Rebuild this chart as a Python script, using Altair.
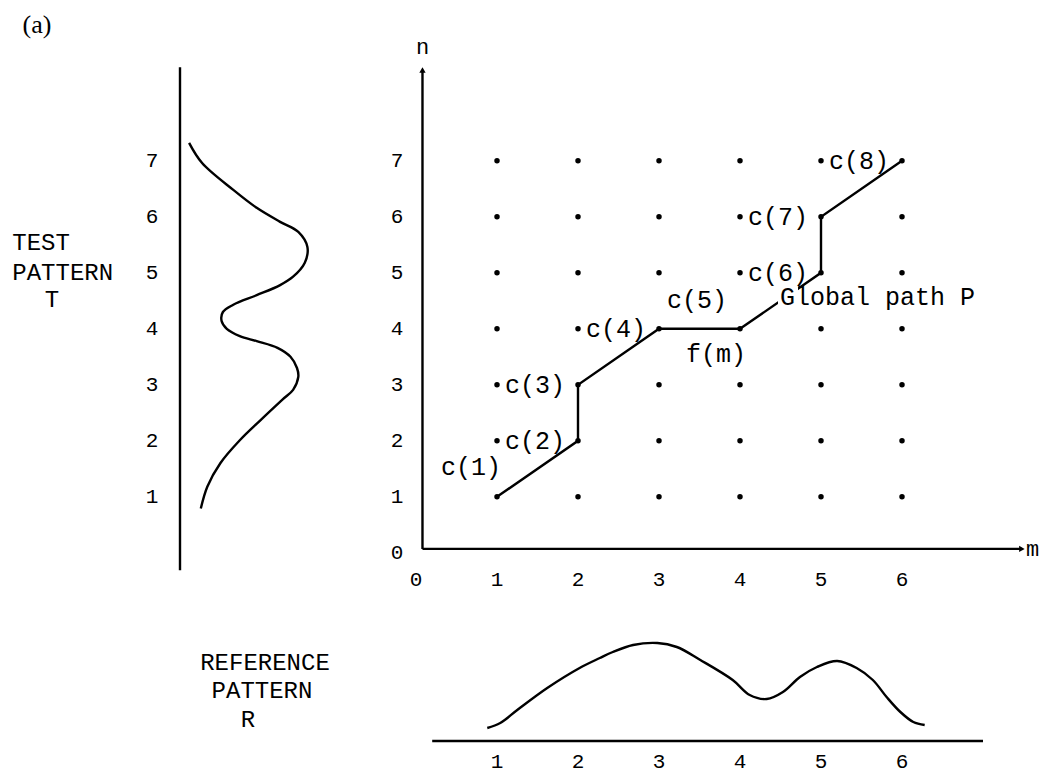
import altair as alt
import pandas as pd

# ------------------------------------------------------------------ data
grid_m = [1, 2, 3, 4, 5, 6]
grid_n = [1, 2, 3, 4, 5, 6, 7]

# global warping path c(1) ... c(8)
path_m = [1, 2, 2, 3, 4, 5, 5, 6]
path_n = [1, 2, 3, 4, 4, 5, 6, 7]

# labels written just right of a grid dot
side_labels = ["c(2)", "c(3)", "c(4)", "c(6)", "c(7)", "c(8)"]
side_label_m = [1, 1, 2, 4, 4, 5]
side_label_n = [2, 3, 4, 5, 6, 7]

# test pattern T (drawn vertically: amplitude against n)
test_n = [7.32, 6.96, 6.48, 6.16, 5.91, 5.73, 5.46, 5.18, 4.93, 4.78, 4.60, 4.43,
          4.30, 4.14, 4.00, 3.87, 3.78, 3.66, 3.50, 3.30, 3.14, 2.91, 2.74, 2.37,
          2.01, 1.60, 1.18, 0.79]
test_amp = [0.07, 0.17, 0.41, 0.59, 0.77, 0.91, 0.98, 0.96, 0.87, 0.77, 0.59, 0.41,
            0.33, 0.32, 0.36, 0.46, 0.59, 0.75, 0.85, 0.90, 0.91, 0.87, 0.79, 0.62,
            0.46, 0.31, 0.21, 0.16]

# reference pattern R (amplitude against m)
ref_m = [0.88, 1.04, 1.25, 1.62, 2.02, 2.27, 2.43, 2.68, 2.98, 3.22, 3.51, 3.91,
         4.12, 4.33, 4.53, 4.74, 4.95, 5.20, 5.44, 5.64, 5.81, 5.98, 6.14, 6.28]
ref_amp = [0.13, 0.18, 0.31, 0.53, 0.73, 0.83, 0.89, 0.96, 0.98, 0.94, 0.81, 0.61,
           0.46, 0.42, 0.49, 0.64, 0.74, 0.80, 0.73, 0.61, 0.44, 0.29, 0.19, 0.16]

m_tick_values = [0, 1, 2, 3, 4, 5, 6]
n_tick_values = [0, 1, 2, 3, 4, 5, 6, 7]
test_tick_values = [1, 2, 3, 4, 5, 6, 7]
ref_tick_values = [1, 2, 3, 4, 5, 6]

# axis extents in data units
axis_origin_m = 0.08
axis_origin_n = 0.07
axis_n_end = 8.62
axis_m_end = 7.48
test_base_n = [-0.31, 8.67]
ref_base_m = [0.20, 7.00]

# side titles (text, position in the units of their panel)
test_title = ["TEST", "PATTERN"]
test_title_a = [-1.29, -1.29]
test_title_n = [5.53, 5.00]
test_symbol = ["T"]
test_symbol_a = [-0.985]
test_symbol_n = [4.51]
ref_title = ["REFERENCE", "PATTERN", "R"]
ref_title_m = [-1.864, -1.901, -2.074]
ref_title_b = [0.78, 0.50, 0.21]

# ------------------------------------------------------------------ layout
W, H = 1033, 765
M0, MPX = 408.0, 81.0     # plot px of m = 0, px per unit m
N0, NPX = 544.8, 56.0     # plot px of n = 0, px per unit n
A0, APX = 172.0, 130.0    # test-pattern amplitude axis
B0, BPX = 733.0, 100.0    # reference-pattern amplitude axis

FONT = "Liberation Mono"
FS_LABEL = 25
FS_TICK = 21
FS_TITLE = 24

sm = alt.Scale(domain=[-M0 / MPX, (W - M0) / MPX], nice=False, zero=False)
sn = alt.Scale(domain=[(N0 - H) / NPX, N0 / NPX], nice=False, zero=False)
sa = alt.Scale(domain=[-A0 / APX, (W - A0) / APX], nice=False, zero=False)
sb = alt.Scale(domain=[(B0 - H) / BPX, B0 / BPX], nice=False, zero=False)


def X(field, scale):
    return alt.X(f"{field}:Q", scale=scale, axis=None)


def Y(field, scale):
    return alt.Y(f"{field}:Q", scale=scale, axis=None)


# ------------------------------------------------------------------ frames
grid_df = pd.DataFrame([{"m": m, "n": n} for n in grid_n for m in grid_m])
path_df = pd.DataFrame({"m": path_m, "n": path_n, "k": list(range(1, len(path_m) + 1))})
side_df = pd.DataFrame({"m": side_label_m, "n": side_label_n, "t": side_labels})
c1_df = pd.DataFrame({"m": [path_m[0]], "n": [path_n[0]], "t": ["c(1)"]})
c5_df = pd.DataFrame({"m": [path_m[3]], "n": [path_n[3]], "t": ["c(5)"]})
fm_df = pd.DataFrame({"m": [path_m[4]], "n": [path_n[4]], "t": ["f(m)"]})
gp_df = pd.DataFrame({"m": [path_m[4]], "n": [path_n[4]], "t": ["Global path P"]})

test_df = pd.DataFrame({"a": test_amp, "n": test_n, "i": list(range(len(test_n)))})
ref_df = pd.DataFrame({"m": ref_m, "b": ref_amp, "i": list(range(len(ref_m)))})

n_axis_df = pd.DataFrame({"m": [axis_origin_m], "n": [axis_origin_n], "n2": [axis_n_end]})
m_axis_df = pd.DataFrame({"m": [axis_origin_m], "m2": [axis_m_end], "n": [axis_origin_n]})
up_df = pd.DataFrame({"m": [axis_origin_m], "n": [axis_n_end], "t": ["n"]})
right_df = pd.DataFrame({"m": [axis_m_end], "n": [axis_origin_n], "t": ["m"]})

test_base_df = pd.DataFrame({"a": [0.0], "n": [test_base_n[0]], "n2": [test_base_n[1]]})
ref_base_df = pd.DataFrame({"m": [ref_base_m[0]], "m2": [ref_base_m[1]], "b": [0.0]})

n_tick_df = pd.DataFrame({"m": [0.0] * len(n_tick_values), "n": n_tick_values,
                          "t": [str(v) for v in n_tick_values]})
m_tick_df = pd.DataFrame({"m": m_tick_values, "n": [0.0] * len(m_tick_values),
                          "t": [str(v) for v in m_tick_values]})
test_tick_df = pd.DataFrame({"a": [0.0] * len(test_tick_values), "n": test_tick_values,
                             "t": [str(v) for v in test_tick_values]})
ref_tick_df = pd.DataFrame({"m": ref_tick_values, "b": [0.0] * len(ref_tick_values),
                            "t": [str(v) for v in ref_tick_values]})

test_title_df = pd.DataFrame({"a": test_title_a, "n": test_title_n, "t": test_title})
test_symbol_df = pd.DataFrame({"a": test_symbol_a, "n": test_symbol_n, "t": test_symbol})
ref_title_df = pd.DataFrame({"m": ref_title_m, "b": ref_title_b, "t": ref_title})
panel_df = pd.DataFrame({"m": [-4.679], "n": [9.425], "t": ["(a)"]})

LW = 2.4
layers = []

# main axes
layers.append(alt.Chart(n_axis_df).mark_rule(color="black", strokeWidth=LW).encode(
    x=X("m", sm), y=Y("n", sn), y2="n2:Q"))
layers.append(alt.Chart(m_axis_df).mark_rule(color="black", strokeWidth=LW).encode(
    x=X("m", sm), x2="m2:Q", y=Y("n", sn)))
layers.append(alt.Chart(up_df).mark_point(shape="triangle-up", filled=True, size=40,
                                          color="black", opacity=1).encode(
    x=X("m", sm), y=Y("n", sn)))
layers.append(alt.Chart(right_df).mark_point(shape="triangle-right", filled=True, size=40,
                                             color="black", opacity=1).encode(
    x=X("m", sm), y=Y("n", sn)))
layers.append(alt.Chart(up_df).mark_text(font=FONT, fontSize=22, dy=-23, color="black").encode(
    x=X("m", sm), y=Y("n", sn), text="t:N"))
layers.append(alt.Chart(right_df).mark_text(font=FONT, fontSize=22, dx=4, align="left",
                                            color="black").encode(
    x=X("m", sm), y=Y("n", sn), text="t:N"))

# tick labels of main plot
layers.append(alt.Chart(n_tick_df).mark_text(font=FONT, fontSize=FS_TICK, dx=-19,
                                             color="black").encode(
    x=X("m", sm), y=Y("n", sn), text="t:N"))
layers.append(alt.Chart(m_tick_df).mark_text(font=FONT, fontSize=FS_TICK, dy=27,
                                             color="black").encode(
    x=X("m", sm), y=Y("n", sn), text="t:N"))

# grid dots and path
layers.append(alt.Chart(grid_df).mark_circle(size=30, color="black", opacity=1).encode(
    x=X("m", sm), y=Y("n", sn)))
layers.append(alt.Chart(path_df).mark_line(color="black", strokeWidth=LW).encode(
    x=X("m", sm), y=Y("n", sn), order="k:Q"))
# small white gap where the "Global path P" label interrupts the path
layers.append(alt.Chart(gp_df).mark_point(shape="square", filled=True, size=400,
                                          color="white", opacity=1,
                                          xOffset=48, yOffset=-33).encode(
    x=X("m", sm), y=Y("n", sn)))

# path labels
layers.append(alt.Chart(side_df).mark_text(font=FONT, fontSize=FS_LABEL, dx=8, align="left",
                                           color="black").encode(
    x=X("m", sm), y=Y("n", sn), text="t:N"))
layers.append(alt.Chart(c1_df).mark_text(font=FONT, fontSize=FS_LABEL, dx=-26, dy=-30,
                                         color="black").encode(
    x=X("m", sm), y=Y("n", sn), text="t:N"))
layers.append(alt.Chart(c5_df).mark_text(font=FONT, fontSize=FS_LABEL, dx=8, dy=-29,
                                         align="left", color="black").encode(
    x=X("m", sm), y=Y("n", sn), text="t:N"))
layers.append(alt.Chart(fm_df).mark_text(font=FONT, fontSize=FS_LABEL, dx=-54, dy=25,
                                         align="left", color="black").encode(
    x=X("m", sm), y=Y("n", sn), text="t:N"))
layers.append(alt.Chart(gp_df).mark_text(font=FONT, fontSize=FS_LABEL, dx=40, dy=-32,
                                         align="left", color="black").encode(
    x=X("m", sm), y=Y("n", sn), text="t:N"))

# test pattern panel (left)
layers.append(alt.Chart(test_base_df).mark_rule(color="black", strokeWidth=LW).encode(
    x=X("a", sa), y=Y("n", sn), y2="n2:Q"))
layers.append(alt.Chart(test_df).mark_line(color="black", strokeWidth=LW,
                                           interpolate="catmull-rom").encode(
    x=X("a", sa), y=Y("n", sn), order="i:Q"))
layers.append(alt.Chart(test_tick_df).mark_text(font=FONT, fontSize=FS_TICK, dx=-28,
                                                color="black").encode(
    x=X("a", sa), y=Y("n", sn), text="t:N"))
layers.append(alt.Chart(test_title_df).mark_text(font=FONT, fontSize=FS_TITLE, align="left",
                                                 color="black").encode(
    x=X("a", sa), y=Y("n", sn), text="t:N"))
layers.append(alt.Chart(test_symbol_df).mark_text(font=FONT, fontSize=FS_TITLE,
                                                  color="black").encode(
    x=X("a", sa), y=Y("n", sn), text="t:N"))

# reference pattern panel (bottom)
layers.append(alt.Chart(ref_base_df).mark_rule(color="black", strokeWidth=LW).encode(
    x=X("m", sm), x2="m2:Q", y=Y("b", sb)))
layers.append(alt.Chart(ref_df).mark_line(color="black", strokeWidth=LW,
                                          interpolate="catmull-rom").encode(
    x=X("m", sm), y=Y("b", sb), order="i:Q"))
layers.append(alt.Chart(ref_tick_df).mark_text(font=FONT, fontSize=FS_TICK, dy=21,
                                               color="black").encode(
    x=X("m", sm), y=Y("b", sb), text="t:N"))
layers.append(alt.Chart(ref_title_df).mark_text(font=FONT, fontSize=FS_TITLE,
                                                color="black").encode(
    x=X("m", sm), y=Y("b", sb), text="t:N"))

# panel tag
layers.append(alt.Chart(panel_df).mark_text(font="Liberation Serif", fontSize=26,
                                            color="black").encode(
    x=X("m", sm), y=Y("n", sn), text="t:N"))

chart = alt.layer(*layers).resolve_scale(x="independent", y="independent").properties(
    width=W, height=H, padding=0,
    autosize=alt.AutoSizeParams(type="none"),
).configure_view(stroke=None)

chart.save("out.html", embed_options={"renderer": "svg", "actions": False})
